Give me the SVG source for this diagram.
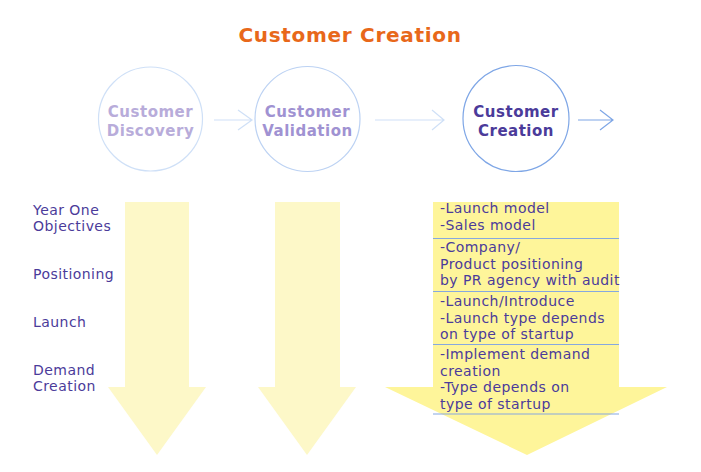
<svg xmlns="http://www.w3.org/2000/svg" width="701" height="472" viewBox="0 0 701 472">
<style>
.t{font-family:"DejaVu Sans","Noto Sans",sans-serif;}
.title{font-size:20px;font-weight:bold;fill:#e8681a;letter-spacing:0.7px;}
.ct{font-size:15px;font-weight:bold;text-anchor:middle;letter-spacing:0.5px;}
.lbl{font-size:14px;fill:#4b3b9a;letter-spacing:0.45px;}
.item{font-size:14px;fill:#4b3b9a;letter-spacing:0.45px;}
.conn{fill:none;stroke-width:1.2;}
.sep{stroke:#86a8e0;stroke-width:1.2;}
</style>
<rect width="701" height="472" fill="#ffffff"/>
<text class="t title" x="350" y="42" text-anchor="middle">Customer Creation</text>

<g id="discovery">
<circle cx="150.5" cy="119" r="52" fill="none" stroke="#cfe0f7" stroke-width="1.2"/>
<text class="t ct" fill="#b8acda"><tspan x="150.5" y="117">Customer</tspan><tspan x="150.5" y="136">Discovery</tspan></text>
</g>
<g id="validation">
<circle cx="307.5" cy="119" r="52.5" fill="none" stroke="#bcd2f3" stroke-width="1.2"/>
<text class="t ct" fill="#a092d2"><tspan x="307.5" y="117">Customer</tspan><tspan x="307.5" y="136">Validation</tspan></text>
</g>
<g id="creation">
<circle cx="516" cy="118.5" r="53" fill="none" stroke="#7ea6e6" stroke-width="1.2"/>
<text class="t ct" fill="#4b3b9a"><tspan x="516" y="117">Customer</tspan><tspan x="516" y="136">Creation</tspan></text>
</g>

<g id="connectors">
<path class="conn" stroke="#cfe0f7" d="M214 120 H252 M238 110 L252 120 L238 130"/>
<path class="conn" stroke="#cfe0f7" d="M375 120 H444 M432 110 L444 120 L432 130"/>
<path class="conn" stroke="#7ea6e6" d="M578 120 H613 M600 110 L613 120 L600 130"/>
</g>

<g id="arrow-discovery">
<polygon points="125,202 189,202 189,387 206,387 157,455 108,387 125,387" fill="#fdf8c8"/>
</g>
<g id="arrow-validation">
<polygon points="275,202 340,202 340,387 356,387 307,455 258,387 275,387" fill="#fdf8c8"/>
</g>
<g id="arrow-creation">
<polygon points="433,202 619,202 619,387 667,387 527,455 385,387 433,387" fill="#fef59a"/>
<line class="sep" x1="433" y1="238.5" x2="619" y2="238.5"/>
<line class="sep" x1="433" y1="291.5" x2="619" y2="291.5"/>
<line class="sep" x1="433" y1="344.5" x2="619" y2="344.5"/>
<line class="sep" x1="433" y1="414" x2="619" y2="414"/>
<text class="t item"><tspan x="440" y="213">-Launch model</tspan><tspan x="440" y="229.5">-Sales model</tspan></text>
<text class="t item"><tspan x="440" y="252">-Company/</tspan><tspan x="440" y="268.5">Product positioning</tspan><tspan x="440" y="285">by PR agency with audit</tspan></text>
<text class="t item"><tspan x="440" y="306">-Launch/Introduce</tspan><tspan x="440" y="322.5">-Launch type depends</tspan><tspan x="440" y="339">on type of startup</tspan></text>
<text class="t item"><tspan x="440" y="359">-Implement demand</tspan><tspan x="440" y="375.5">creation</tspan><tspan x="440" y="392">-Type depends on</tspan><tspan x="440" y="408.5">type of startup</tspan></text>
</g>

<g id="labels">
<text class="t lbl"><tspan x="33" y="215">Year One</tspan><tspan x="33" y="231">Objectives</tspan></text>
<text class="t lbl" x="33" y="279">Positioning</text>
<text class="t lbl" x="33" y="327">Launch</text>
<text class="t lbl"><tspan x="33" y="375">Demand</tspan><tspan x="33" y="391">Creation</tspan></text>
</g>
</svg>
